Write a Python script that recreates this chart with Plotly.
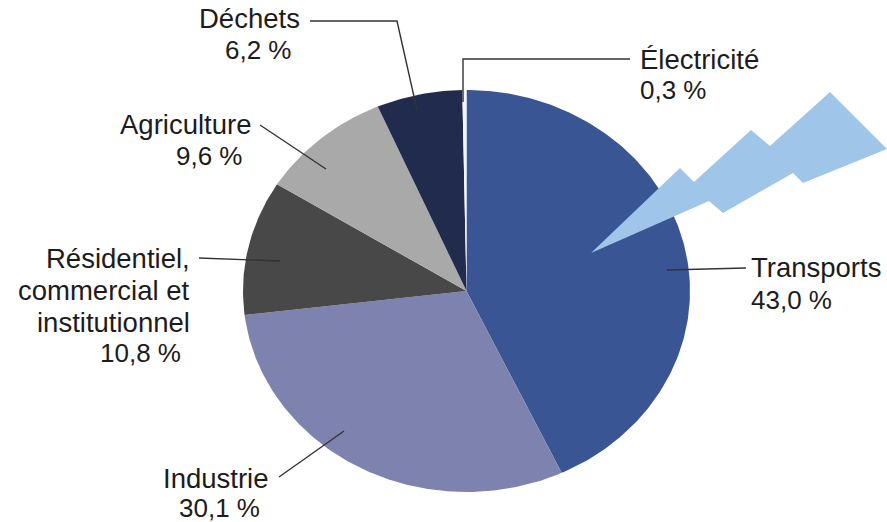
import numpy as np
import plotly.graph_objects as go

categories = ["Transports", "Industrie", "Résidentiel, commercial et institutionnel", "Agriculture", "Déchets", "Électricité"]
values = [43.0, 30.1, 10.8, 9.6, 6.2, 0.3]
colors = ["#3A5593", "#7D83AE", "#484848", "#A9A9A9", "#212B4E", "#F4F6FA"]

CX, CY, RX, RY = 466.5, 291, 223.5, 201

label_lines = [
    [("Transports", 749, 267, "left", 27.5), ("43,0 %", 749, 300, "left", 26)],
    [("Industrie", 270, 478, "right", 27.5), ("30,1 %", 262, 508, "right", 26)],
    [("Résidentiel,", 192, 258, "right", 27.5), ("commercial et", 192, 290, "right", 27.5),
     ("institutionnel", 192, 322, "right", 27.5), ("10,8 %", 183, 353, "right", 26)],
    [("Agriculture", 253, 124, "right", 27.5), ("9,6 %", 245, 156, "right", 26)],
    [("Déchets", 302, 18, "right", 27.5), ("6,2 %", 294, 50, "right", 26)],
    [("Électricité", 638, 59, "left", 27.5), ("0,3 %", 638, 90, "left", 26)],
]
leaders = [
    ([746, 667], [268, 270]),
    ([279, 344], [477, 431]),
    ([199, 280], [258, 261]),
    ([260, 326], [125, 169]),
    ([310, 397, 417], [21, 21, 110]),
    ([630, 463, 463], [59, 59, 102]),
]
bolt_x = [591, 680, 694, 751, 770, 830, 887, 803, 793, 723, 709, 591]
bolt_y = [253, 168, 182, 130, 146, 92, 149, 183, 173, 213, 201, 253]

fig = go.Figure()
cum = np.cumsum([0] + values)
for i, name in enumerate(categories):
    n = max(3, int(values[i] * 4))
    t = np.linspace(cum[i], cum[i + 1], n) / sum(values) * 2 * np.pi
    xs = np.r_[CX, CX + RX * np.sin(t), CX]
    ys = np.r_[CY, CY - RY * np.cos(t), CY]
    fig.add_trace(go.Scatter(x=xs, y=ys, mode="lines", fill="toself", fillcolor=colors[i],
                             line=dict(width=0, color=colors[i]), name=name, hoverinfo="name",
                             showlegend=False))

fig.add_trace(go.Scatter(x=bolt_x, y=bolt_y, mode="lines", fill="toself", fillcolor="#9FC5E8",
                         line=dict(width=0, color="#9FC5E8"), hoverinfo="skip", showlegend=False))

for lx, ly in leaders:
    fig.add_trace(go.Scatter(x=lx, y=ly, mode="lines", line=dict(color="#333333", width=1.4),
                             hoverinfo="skip", showlegend=False))

for lines in label_lines:
    for text, x, y, anchor, size in lines:
        fig.add_annotation(x=x, y=y, text=text, showarrow=False, xanchor=anchor, yanchor="middle",
                           font=dict(family="Liberation Sans, Arial, sans-serif", size=size, color="#1c1c1c"))

fig.update_xaxes(range=[0, 887], visible=False)
fig.update_yaxes(range=[522, 0], visible=False)
fig.update_layout(width=887, height=522, margin=dict(l=0, r=0, t=0, b=0),
                  paper_bgcolor="white", plot_bgcolor="white", showlegend=False)
fig.write_html("out.html", config={"displayModeBar": False},
               post_script="document.body.style.margin='0';document.documentElement.style.overflow='hidden';")
